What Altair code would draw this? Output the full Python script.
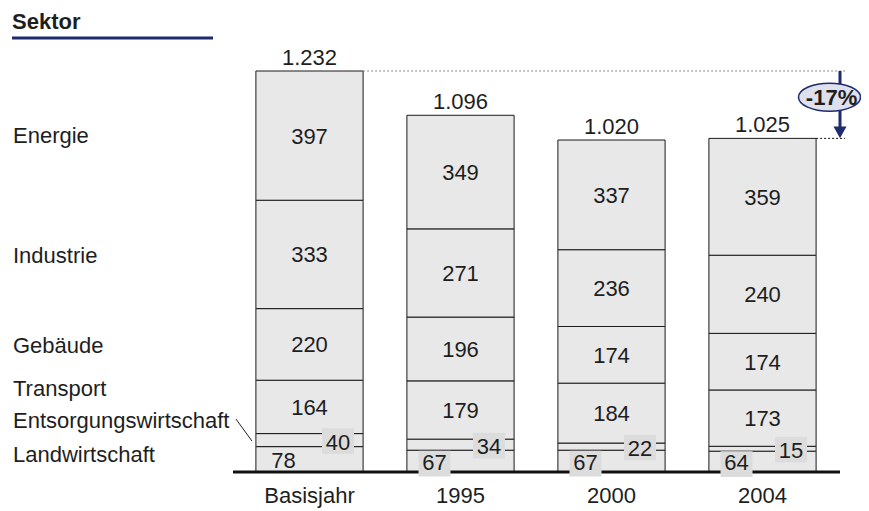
import altair as alt
import pandas as pd

# ---------------- data ----------------
years = ["Basisjahr", "1995", "2000", "2004"]
sectors = ["Landwirtschaft", "Entsorgungswirtschaft", "Transport", "Gebäude", "Industrie", "Energie"]  # bottom -> top
landwirtschaft = [78, 67, 67, 64]
entsorgung = [40, 34, 22, 15]
transport = [164, 179, 184, 173]
gebaeude = [220, 196, 174, 174]
industrie = [333, 271, 236, 240]
energie = [397, 349, 337, 359]
totals = [1232, 1096, 1020, 1025]
title_text = "Sektor"

series = {
    "Landwirtschaft": landwirtschaft,
    "Entsorgungswirtschaft": entsorgung,
    "Transport": transport,
    "Gebäude": gebaeude,
    "Industrie": industrie,
    "Energie": energie,
}

rows = []
for i, yr in enumerate(years):
    base = 0
    for s in sectors:
        v = series[s][i]
        rows.append(dict(year=yr, sector=s, value=v, y0=base, y1=base + v, mid=base + v / 2))
        base += v
seg = pd.DataFrame(rows)

tot = pd.DataFrame(dict(year=years, total=totals,
                        label=[f"{t:,}".replace(",", ".") for t in totals]))

pct = round((totals[-1] - totals[0]) / totals[0] * 100)
arrow = pd.DataFrame([dict(start=totals[0], end=totals[-1],
                           mid=(totals[0] + totals[-1]) / 2, label=f"{pct}%")])

# ---------------- style ----------------
FONT = "Liberation Sans"
TXT = "#1e1e1e"
BAR = "#e8e8e9"
BOX = "#dcdcdc"
NAVY = "#1f2b6c"
LAV = "#dfe0ee"
FS = 22

xs = alt.Scale(domain=years, range=[226, 830], paddingInner=0.29, paddingOuter=0.145)
ys = alt.Scale(domain=[0, 1425.6], nice=False)

XAXIS = alt.Axis(title=None, ticks=False, domain=False, labelAngle=0,
                 labelFontSize=FS, labelFont=FONT, labelColor=TXT,
                 labelPadding=13)
X = alt.X("year:N", scale=xs, sort=years, axis=XAXIS)
X_RIGHT = alt.X("year:N", scale=xs, sort=years, axis=XAXIS, bandPosition=1)


def Y(field):
    return alt.Y(field, type="quantitative", scale=ys, axis=None)


bars = alt.Chart(seg).mark_bar(fill=BAR, stroke="#1a1a1a", strokeWidth=1).encode(
    x=X, y=Y("y0"), y2="y1")

baseline = alt.Chart(tot[tot.year == years[0]]).mark_rule(
    color="#111111", strokeWidth=3).encode(
    y=Y("zero"), x=alt.value(225), x2=alt.value(832)
).transform_calculate(zero="0")

BOXPATH = "M-1,-0.8L1,-0.8L1,0.8L-1,0.8Z"

box_ent = alt.Chart(seg[seg.sector == "Entsorgungswirtschaft"]).mark_point(
    shape=BOXPATH, size=1024, filled=True, color=BOX, opacity=1, strokeWidth=0,
    xOffset=28.5, yOffset=1).encode(x=X, y=Y("mid"))

box_land = alt.Chart(seg[(seg.sector == "Landwirtschaft") & (seg.year != years[0])]).mark_point(
    shape=BOXPATH, size=1024, filled=True, color=BOX, opacity=1, strokeWidth=0,
    xOffset=-26, yOffset=2.5).encode(x=X, y=Y("mid"))

main_txt = alt.Chart(seg[seg.sector.isin(["Transport", "Gebäude", "Industrie", "Energie"])]).mark_text(
    font=FONT, fontSize=FS, color=TXT, baseline="middle", dy=1).encode(
    x=X, y=Y("mid"), text="value:Q")

ent_txt = alt.Chart(seg[seg.sector == "Entsorgungswirtschaft"]).mark_text(
    font=FONT, fontSize=FS, color=TXT, baseline="middle", dx=28.5, dy=2.5).encode(
    x=X, y=Y("mid"), text="value:Q")

land_txt = alt.Chart(seg[seg.sector == "Landwirtschaft"]).mark_text(
    font=FONT, fontSize=FS, color=TXT, baseline="middle", dx=-26, dy=1.5).encode(
    x=X, y=Y("mid"), text="value:Q")

tot_txt = alt.Chart(tot).mark_text(
    font=FONT, fontSize=FS, color=TXT, baseline="middle", dy=-13).encode(
    x=X, y=Y("total"), text="label:N")

# left sector labels (positioned at the Basisjahr segments)
label_dy = {"Energie": 0, "Industrie": 2, "Gebäude": 2, "Transport": -18,
            "Entsorgungswirtschaft": -19, "Landwirtschaft": -4}
left_labels = []
for s in sectors:
    left_labels.append(
        alt.Chart(seg[(seg.year == years[0]) & (seg.sector == s)]).mark_text(
            font=FONT, fontSize=FS, color=TXT, baseline="middle", align="left",
            dy=label_dy[s]).encode(x=alt.value(5), y=Y("mid"), text="sector:N"))

leader = alt.Chart(seg[(seg.year == years[0]) & (seg.sector == "Entsorgungswirtschaft")]).mark_rule(
    color="#222222", strokeWidth=1, yOffset=-21, y2Offset=1).encode(
    x=alt.value(228), x2=alt.value(244), y=Y("mid"), y2="mid:Q")

# reference dashed lines
ref_top = alt.Chart(tot[tot.year == years[0]]).mark_rule(
    color="#888888", strokeWidth=1, strokeDash=[2, 2]).encode(
    x=X_RIGHT, x2=alt.value(837), y=Y("total"))

ref_end = alt.Chart(tot[tot.year == years[-1]]).mark_rule(
    color="#111111", strokeWidth=1, strokeDash=[2, 2]).encode(
    x=X_RIGHT, x2=alt.value(837), y=Y("total"))

arrow_line = alt.Chart(arrow).mark_rule(color=NAVY, strokeWidth=3, y2Offset=-8).encode(
    x=alt.value(832), y=Y("start"), y2="end:Q")

arrow_head = alt.Chart(arrow).mark_point(
    shape="M-1,-0.9L1,-0.9L0,0.9Z", size=169, filled=True, color=NAVY, opacity=1,
    strokeWidth=0, yOffset=-6).encode(x=alt.value(832), y=Y("end"))

ELL = ("M-1,0C-1,-0.25,-0.552,-0.452,0,-0.452C0.552,-0.452,1,-0.25,1,0"
       "C1,0.25,0.552,0.452,0,0.452C-0.552,0.452,-1,0.25,-1,0Z")
ellipse = alt.Chart(arrow).mark_point(
    shape=ELL, size=3844, filled=True, fill=LAV, stroke=NAVY, strokeWidth=1.5,
    opacity=1, yOffset=-7.5).encode(x=alt.value(821.5), y=Y("mid"))

pct_txt = alt.Chart(arrow).mark_text(
    font=FONT, fontSize=FS, fontWeight="bold", color=TXT, baseline="middle",
    yOffset=-7).encode(x=alt.value(823.5), y=Y("mid"), text="label:N")

# title
title = alt.Chart(arrow).mark_text(
    font=FONT, fontSize=FS, fontWeight="bold", color=TXT, baseline="middle", align="left",
    text=title_text).encode(x=alt.value(4), y=alt.value(14))
title_rule = alt.Chart(arrow).mark_rule(color=NAVY, strokeWidth=3).encode(
    x=alt.value(4), x2=alt.value(205), y=alt.value(30))

chart = alt.layer(
    bars, baseline, box_ent, box_land, main_txt, ent_txt, land_txt, tot_txt,
    *left_labels, leader, ref_top, ref_end, arrow_line, ellipse, arrow_head, pct_txt,
    title, title_rule,
).properties(
    width=853, height=464,
    autosize=alt.AutoSizeParams(type="none"),
    padding={"left": 0, "top": 0, "right": 0, "bottom": 38},
).configure_view(stroke=None)

chart.save("out.html", embed_options={"renderer": "svg", "actions": False})
